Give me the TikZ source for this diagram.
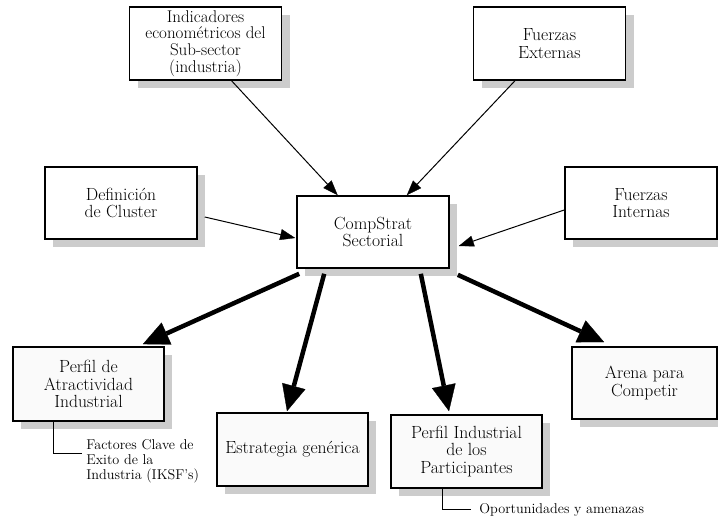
\documentclass[tikz,border=0pt]{standalone}
\usetikzlibrary{arrows.meta,shadows,calc}
\newcommand\boxfont{\fontsize{17.6bp}{17.8bp}\selectfont}
\newcommand\tightfont{\fontsize{17bp}{16.8bp}\selectfont}
\newcommand\notefont{\fontsize{14.2bp}{15bp}\selectfont}
\tikzset{
  box/.style={draw=black, line width=1.6bp, fill=#1, minimum width=152bp, minimum height=73bp,
    inner sep=1bp, align=center, font=\boxfont,
    drop shadow={shadow xshift=8bp, shadow yshift=-8bp, fill=black!20, opacity=1}},
  box/.default=white,
  thinarrow/.style={line width=1bp, -{Triangle[length=15bp,width=11bp,line width=0.3bp]}},
  thickarrow/.style={line width=4.5bp, -{Triangle[length=26bp,width=24bp,line width=0.3bp]}},
  noteline/.style={line width=1bp},
  note/.style={font=\notefont, align=left, inner sep=0pt, anchor=west}
}
\begin{document}
\begin{tikzpicture}[x=1bp,y=-1bp]
\useasboundingbox (0,0) rectangle (718,518);
% top row
\node[box, font=\tightfont] (ind) at (205.5,43.5) {Indicadores\\econométricos del\\Sub-sector\\(industria)};
\node[box] (fext) at (549.5,43.5) {Fuerzas\\Externas};
% middle row
\node[box, minimum height=72bp] (def) at (121,203) {Definición\\de Cluster};
\node[box, minimum height=72bp] (comp) at (373,232) {CompStrat\\Sectorial};
\node[box, minimum height=72bp] (fint) at (641,203) {Fuerzas\\Internas};
% bottom row
\node[box=black!2, minimum width=151bp, minimum height=74bp] (perf) at (88.5,384) {Perfil de\\Atractividad\\Industrial};
\node[box=black!2, minimum width=151bp] (est) at (292.5,449.5) {Estrategia genérica};
\node[box=black!2, minimum width=151bp] (pind) at (466.5,451.5) {Perfil Industrial\\de los\\Participantes};
\node[box=black!2, minimum width=145bp, minimum height=72bp] (arena) at (644.5,383) {Arena para\\Competir};
% thin arrows
\draw[thinarrow] ($(ind.south west)!0.67!(ind.south east)$) -- ($(comp.north west)!0.27!(comp.north east)$);
\draw[thinarrow] ($(fext.south west)!0.275!(fext.south east)$) -- ($(comp.north west)!0.72!(comp.north east)$);
\draw[thinarrow] ($(def.east)+(7,14)$) -- ($(comp.west)+(-1,6)$);
\draw[thinarrow] ($(fint.west)+(0,7)$) -- ($(comp.east)+(9,14)$);
% thick arrows
\draw[thickarrow] ($(comp.south west)+(3,5)$) -- ($(perf.north east)+(-22,-2)$);
\draw[thickarrow] ($(comp.south west)+(28,5)$) -- ($(est.north)+(-5.5,-1)$);
\draw[thickarrow] ($(comp.south east)+(-29,5)$) -- ($(pind.north)+(-17.5,-3)$);
\draw[thickarrow] ($(comp.south east)+(8,6)$) -- ($(arena.north west)+(33,-4)$);
% annotations
\coordinate (p1) at ($(perf.south west)+(41,0)$);
\coordinate (p2) at ($(p1)+(0,32)$);
\coordinate (p3) at ($(p2)+(29,0)$);
\draw[noteline] (p1) -- (p2) -- (p3);
\node[note] (ksf) at ($(p3)+(4,7)$) {Factores Clave de\\Exito de la\\Industria (IKSF’s)};
\coordinate (q1) at ($(pind.south west)+(52,0)$);
\coordinate (q2) at ($(q1)+(0,21)$);
\coordinate (q3) at ($(q2)+(29,0)$);
\draw[noteline] (q1) -- (q2) -- (q3);
\node[note] (opa) at ($(q3)+(8,0)$) {Oportunidades y amenazas};
\end{tikzpicture}
\end{document}
